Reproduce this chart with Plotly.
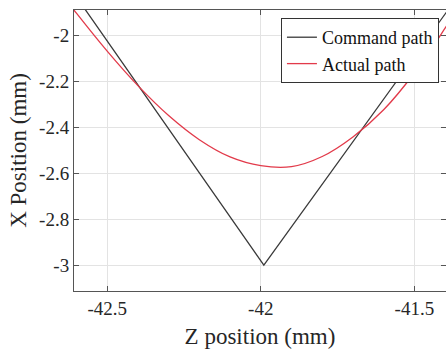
import plotly.graph_objects as go

# Command path (V-shaped), Z position vs X position (mm)
cmd_z = [-42.64, -41.99, -41.35]
cmd_x = [-1.758, -3.0, -1.816]

# Actual path (smooth curve)
act_z = [-42.7, -42.6, -42.5, -42.4, -42.3, -42.2, -42.1, -42.0, -41.9,
         -41.8, -41.7, -41.6, -41.5, -41.4, -41.3]
act_x = [-1.73, -1.905, -2.07, -2.22, -2.35, -2.455, -2.53, -2.568, -2.572,
         -2.528, -2.443, -2.325, -2.165, -1.97, -1.76]

x_tickvals = [-42.5, -42, -41.5]
x_ticktext = ["-42.5", "-42", "-41.5"]
y_tickvals = [-3, -2.8, -2.6, -2.4, -2.2, -2]
y_ticktext = ["-3", "-2.8", "-2.6", "-2.4", "-2.2", "-2"]

FONT = "Liberation Serif"
AXC = "#262626"

fig = go.Figure()
fig.add_trace(go.Scatter(x=cmd_z, y=cmd_x, mode="lines", name="Command path",
                         line=dict(color="#3a3a3a", width=1.3)))
fig.add_trace(go.Scatter(x=act_z, y=act_x, mode="lines", name="Actual path",
                         line=dict(color="#e23a4a", width=1.3, shape="spline", smoothing=1)))

fig.update_layout(
    width=446, height=353,
    margin=dict(l=74, r=0, t=10, b=62),
    paper_bgcolor="white", plot_bgcolor="white",
    font=dict(family=FONT, color=AXC),
    showlegend=True,
    legend=dict(x=0.981, y=0.9715, xanchor="right", yanchor="top",
                bgcolor="white", bordercolor="#333333", borderwidth=1,
                font=dict(family=FONT, size=18, color="#111111"),
                tracegroupgap=0, itemwidth=30),
    xaxis=dict(range=[-42.608, -41.397], tickvals=x_tickvals, ticktext=x_ticktext,
               showgrid=True, gridcolor="#e3e3e3", gridwidth=1, zeroline=False,
               showline=True, linecolor="#555555", linewidth=1, mirror="ticks",
               ticks="inside", ticklen=5, tickcolor="#555555",
               tickfont=dict(family=FONT, size=19, color=AXC),
               title=dict(text="Z position (mm)", font=dict(family=FONT, size=23, color=AXC), standoff=10)),
    yaxis=dict(range=[-3.113, -1.891], tickvals=y_tickvals, ticktext=y_ticktext,
               showgrid=True, gridcolor="#e3e3e3", gridwidth=1, zeroline=False,
               showline=True, linecolor="#555555", linewidth=1, mirror="ticks",
               ticks="inside", ticklen=5, tickcolor="#555555",
               tickfont=dict(family=FONT, size=19, color=AXC),
               title=dict(text="X Position (mm)", font=dict(family=FONT, size=23, color=AXC), standoff=6)),
)

fig.write_html("out.html")
